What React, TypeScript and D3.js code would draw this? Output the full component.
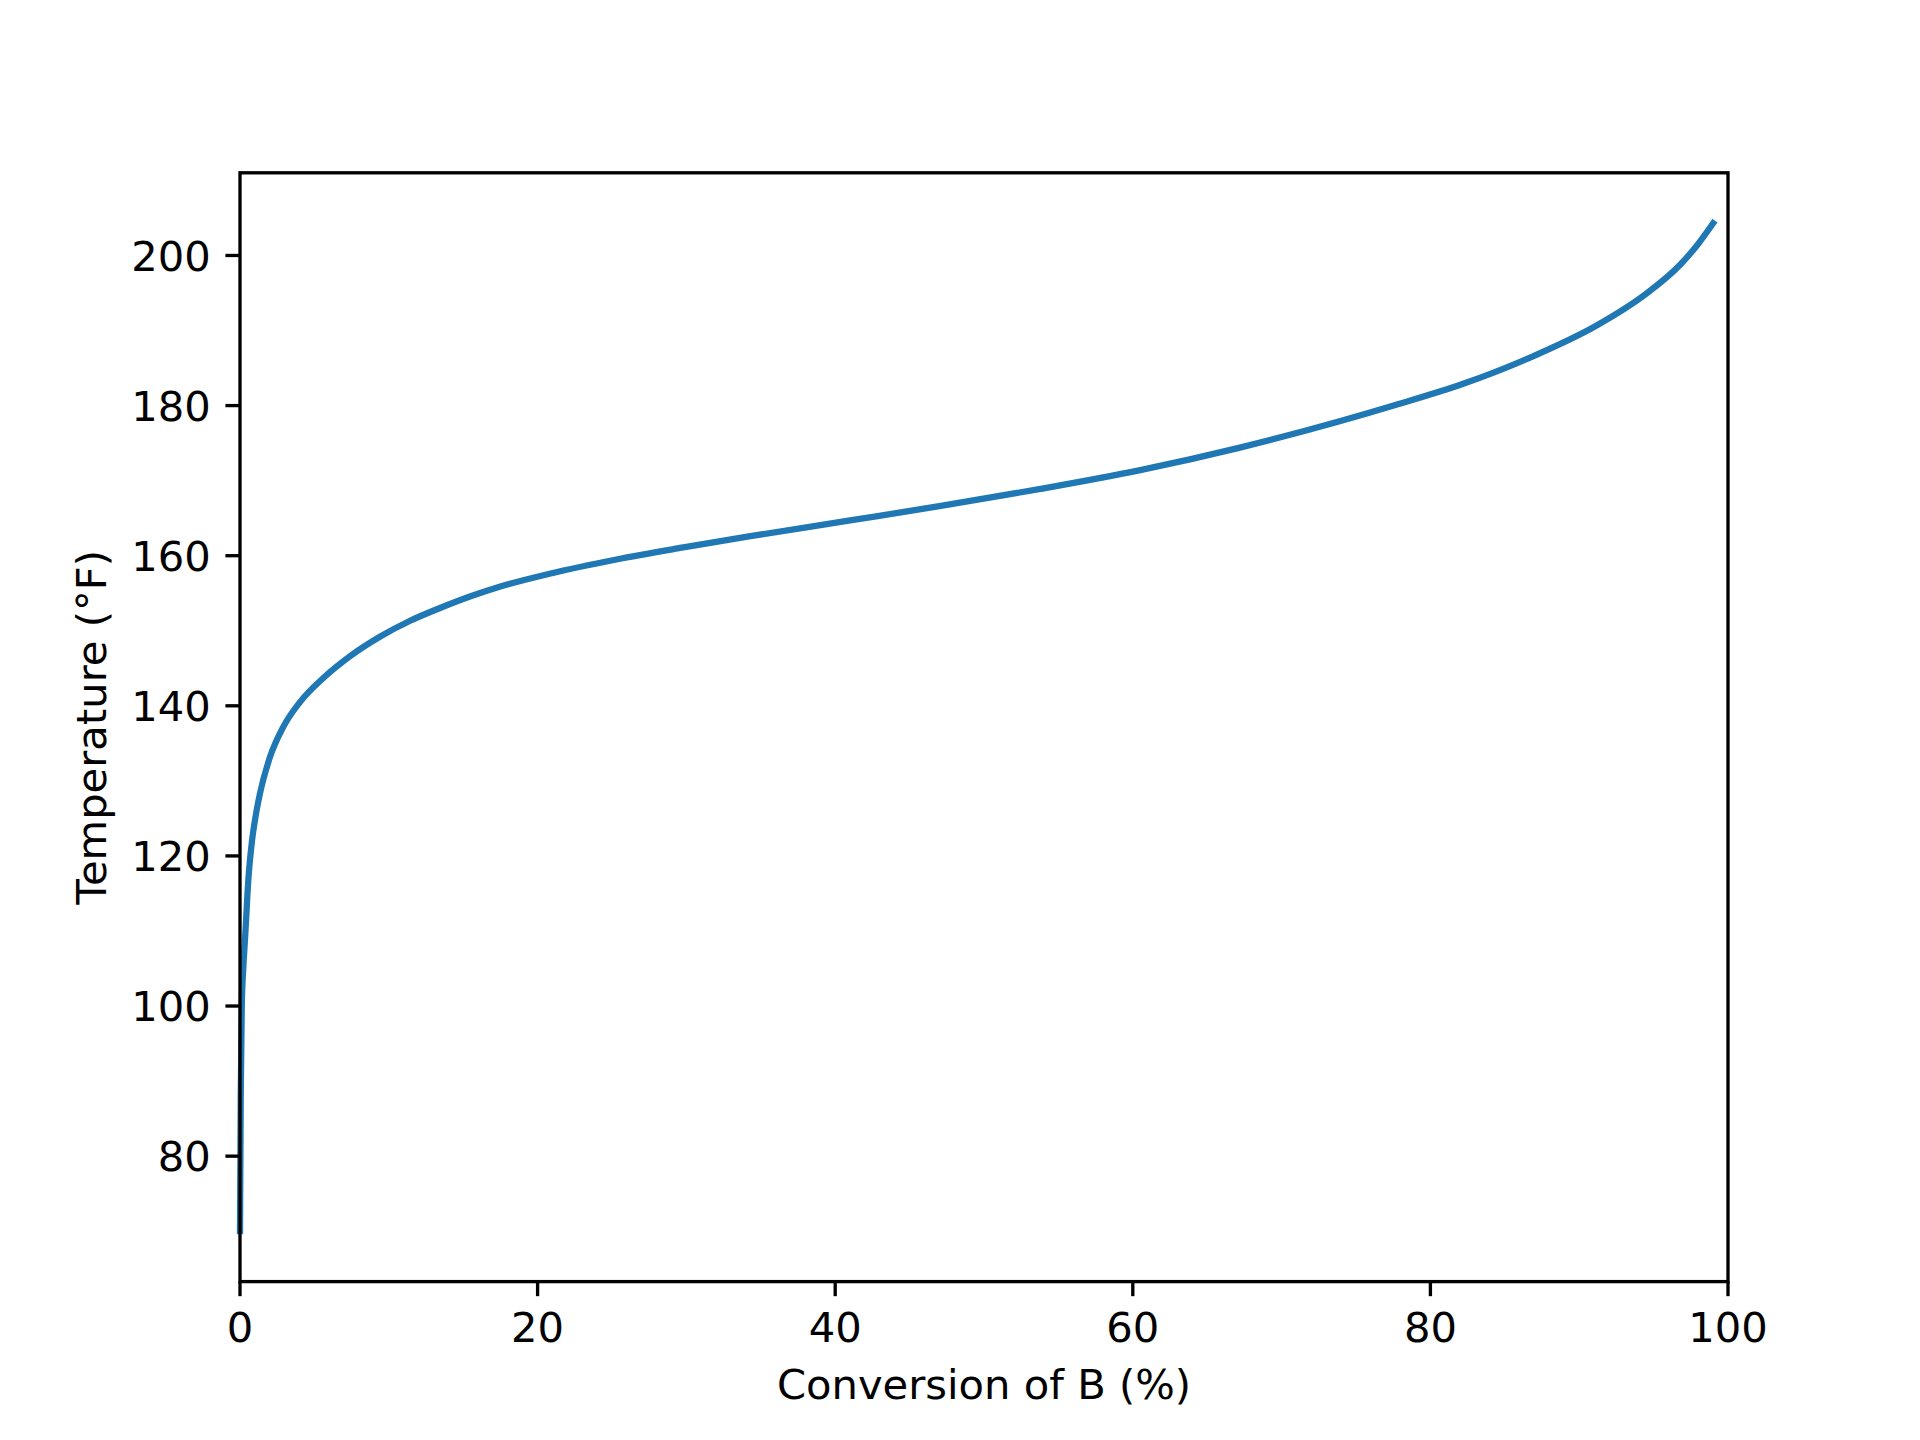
import React from "react";
import * as d3 from "d3";

const conversion = [0, 0.05, 0.12, 0.22, 0.34, 0.56, 0.8, 1.05, 1.34, 2.02, 2.91, 4.03, 5.6, 7.39, 9.4, 11.4, 13.4, 15.5, 17.5, 20.8, 25.3, 29.8, 34.3, 41, 47, 53.8, 60.5, 67.2, 73.9, 77.7, 82.2, 86.7, 91.2, 94.5, 96.8, 97.9, 99.0];
const temperature = [70, 88, 100, 105, 109, 116.8, 121.9, 125.3, 128.3, 133.2, 137.2, 140.5, 143.7, 146.6, 149.2, 151.3, 153.0, 154.6, 155.9, 157.6, 159.5, 161.1, 162.6, 164.7, 166.6, 168.9, 171.4, 174.4, 177.9, 180.1, 182.9, 186.4, 190.7, 194.9, 198.8, 201.3, 204.3];
const xTicks = [0, 20, 40, 60, 80, 100];
const yTicks = [80, 100, 120, 140, 160, 180, 200];
const xLabel = "Conversion of B (%)";
const yLabel = "Temperature (°F)";

const W = 1920;
const H = 1440;
const left = 240;
const right = 1728;
const top = 172.8;
const bottom = 1281.6;
const fs = 41.67;
const tickLen = 14.58;
const lw = 3.33;

export default function App() {
  const x = d3.scaleLinear().domain([0, 100]).range([left, right]);
  const [tmin, tmax] = d3.extent(temperature) as [number, number];
  const pad = (tmax - tmin) * 0.05;
  const y = d3.scaleLinear().domain([tmin - pad, tmax + pad]).range([bottom, top]);
  const pts = conversion.map((c, i) => [c, temperature[i]] as [number, number]);
  const line = d3
    .line<[number, number]>()
    .x((d) => x(d[0]))
    .y((d) => y(d[1]))
    .curve(d3.curveMonotoneX);
  const font = "'DejaVu Sans', sans-serif";
  return (
    <svg
      width={W}
      height={H}
      style={{ position: "absolute", left: 0, top: 0, background: "#fff" }}
      fontFamily={font}
    >
      <rect x={0} y={0} width={W} height={H} fill="#fff" />
      <path d={line(pts) || ""} fill="none" stroke="#1f77b4" strokeWidth={6.25} strokeLinecap="square" strokeLinejoin="round" />
      <rect x={left} y={top} width={right - left} height={bottom - top} fill="none" stroke="#000" strokeWidth={lw} />
      {xTicks.map((t) => (
        <g key={"x" + t}>
          <line x1={x(t)} x2={x(t)} y1={bottom} y2={bottom + tickLen} stroke="#000" strokeWidth={lw} />
          <text x={x(t)} y={1341.5} textAnchor="middle" fontSize={fs} fill="#000">
            {t}
          </text>
        </g>
      ))}
      {yTicks.map((t) => (
        <g key={"y" + t}>
          <line x1={left - tickLen} x2={left} y1={y(t)} y2={y(t)} stroke="#000" strokeWidth={lw} />
          <text x={left - 29.2} y={y(t) + 15.2} textAnchor="end" fontSize={fs} fill="#000">
            {t}
          </text>
        </g>
      ))}
      <text x={(left + right) / 2} y={1399} textAnchor="middle" fontSize={fs} fill="#000">
        {xLabel}
      </text>
      <text
        transform={`translate(106, ${(top + bottom) / 2}) rotate(-90)`}
        textAnchor="middle"
        fontSize={fs}
        fill="#000"
      >
        {yLabel}
      </text>
    </svg>
  );
}
